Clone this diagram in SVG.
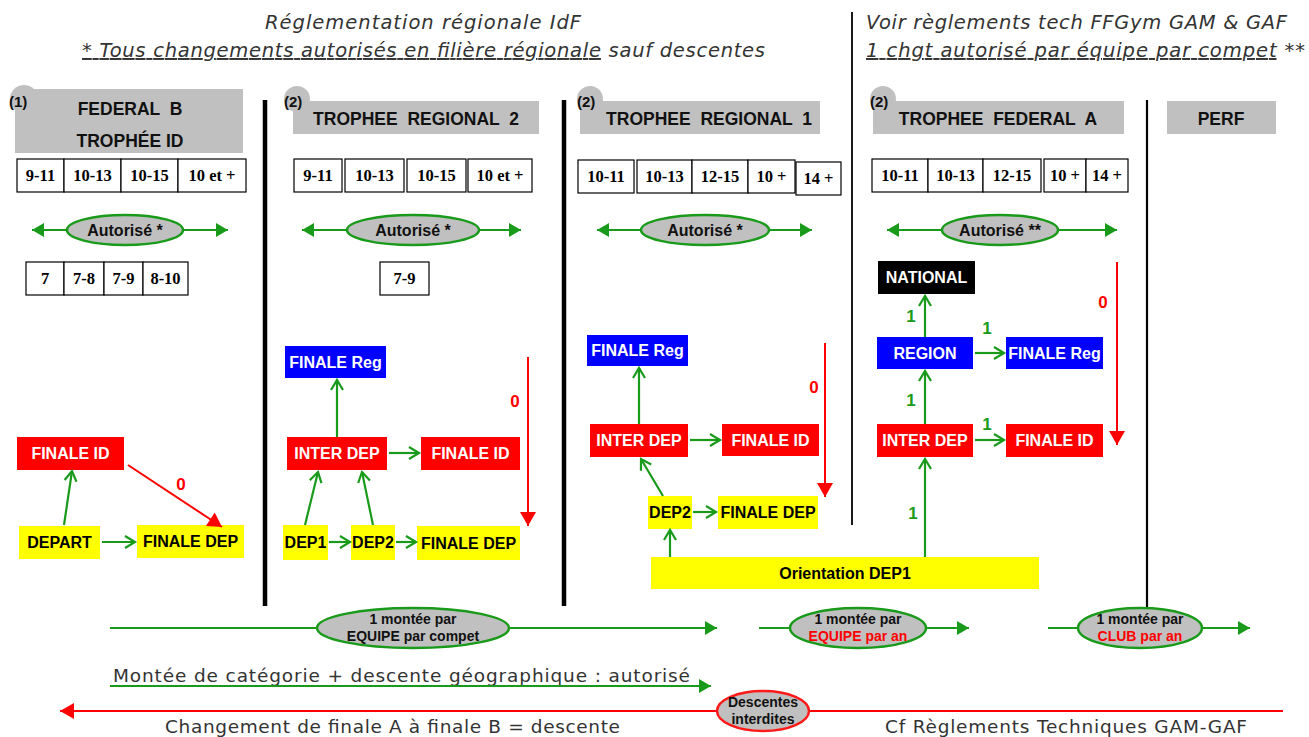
<svg xmlns="http://www.w3.org/2000/svg" width="1309" height="737" viewBox="0 0 1309 737">
<style>
.title{font-family:"DejaVu Sans","Liberation Sans",sans-serif;font-style:italic;font-size:19.5px;fill:#333;}
.plain{font-family:"DejaVu Sans","Liberation Sans",sans-serif;font-size:18.5px;fill:#333;}
.hdr{fill:#c0c0c0;}
.hdrt{font-family:"Liberation Sans",sans-serif;font-weight:bold;font-size:17.5px;fill:#111;text-anchor:middle;white-space:pre;}
.num{font-family:"Liberation Sans",sans-serif;font-weight:bold;font-size:15px;fill:#111;}
.age{fill:#fff;stroke:#000;stroke-width:1.2;}
.aget{font-family:"Liberation Serif",serif;font-weight:bold;font-size:16.5px;fill:#000;text-anchor:middle;}
.ell{fill:#c0c0c0;stroke:#1a9a1a;stroke-width:2.5;}
.ellr{fill:#c0c0c0;stroke:#ff1a1a;stroke-width:2.5;}
.ellt{font-family:"Liberation Sans",sans-serif;font-weight:bold;font-size:16px;fill:#111;text-anchor:middle;}
.ellt2{font-family:"Liberation Sans",sans-serif;font-weight:bold;font-size:14px;fill:#111;text-anchor:middle;}
.red{fill:#ff0000;}
.blue{fill:#0000ff;}
.yel{fill:#ffff00;}
.blk{fill:#000;}
.wt{font-family:"Liberation Sans",sans-serif;font-weight:bold;font-size:16px;fill:#fff;text-anchor:middle;}
.bt{font-family:"Liberation Sans",sans-serif;font-weight:bold;font-size:16px;fill:#000;text-anchor:middle;}
.g{stroke:#1a9a1a;stroke-width:2.2;fill:none;}
.r{stroke:#ff0000;stroke-width:2;fill:none;}
.gl{font-family:"Liberation Sans",sans-serif;font-weight:bold;font-size:17px;fill:#1a9a1a;text-anchor:middle;}
.rl{font-family:"Liberation Sans",sans-serif;font-weight:bold;font-size:17px;fill:#ff0000;text-anchor:middle;}
.sep{stroke:#000;}
</style>
<defs>
<marker id="gOpen" markerUnits="userSpaceOnUse" markerWidth="16" markerHeight="16" refX="13" refY="8" orient="auto">
<path d="M3,2 L13,8 L3,14" fill="none" stroke="#1a9a1a" stroke-width="2.2"/>
</marker>
<marker id="gFill" markerUnits="userSpaceOnUse" markerWidth="16" markerHeight="16" refX="14" refY="8" orient="auto-start-reverse">
<path d="M2,1 L14,8 L2,15 Z" fill="#1a9a1a"/>
</marker>
<marker id="rFill" markerUnits="userSpaceOnUse" markerWidth="18" markerHeight="18" refX="16" refY="9" orient="auto-start-reverse">
<path d="M2,1 L16,9 L2,17 Z" fill="#ff0000"/>
</marker>
</defs>

<g id="titles">
<text class="title" x="265" y="29" textLength="316">Réglementation régionale IdF</text>
<text class="title" x="82" y="57" textLength="683"><tspan text-decoration="underline">* Tous changements autorisés en filière régionale</tspan> sauf descentes</text>
<text class="title" x="866" y="29" textLength="421">Voir règlements tech FFGym GAM &amp; GAF</text>
<text class="title" x="866" y="57" textLength="439"><tspan text-decoration="underline">1 chgt autorisé par équipe par compet</tspan> **</text>
</g>

<g id="separators">
<line class="sep" x1="852" y1="12" x2="852" y2="525" stroke-width="1.8"/>
<line class="sep" x1="265" y1="100" x2="265" y2="606" stroke-width="4.5"/>
<line class="sep" x1="564" y1="100" x2="564" y2="606" stroke-width="4.5"/>
<line class="sep" x1="1147" y1="100" x2="1147" y2="608" stroke-width="2.2"/>
</g>

<g id="header-federal-b">
<circle class="hdr" cx="24" cy="99" r="14"/>
<rect class="hdr" x="15" y="89" width="228" height="64"/>
<text class="num" x="9" y="107">(1)</text>
<text class="hdrt" x="130" y="115">FEDERAL  B</text>
<text class="hdrt" x="130" y="147">TROPHÉE ID</text>
</g>
<g id="header-tr2">
<circle class="hdr" cx="297" cy="99" r="13"/>
<rect class="hdr" x="293" y="101" width="246" height="33"/>
<text class="num" x="284" y="107">(2)</text>
<text class="hdrt" x="416" y="125">TROPHEE  REGIONAL  2</text>
</g>
<g id="header-tr1">
<circle class="hdr" cx="590" cy="99" r="13"/>
<rect class="hdr" x="580" y="101" width="240" height="33"/>
<text class="num" x="577" y="107">(2)</text>
<text class="hdrt" x="709" y="125">TROPHEE  REGIONAL  1</text>
</g>
<g id="header-tfa">
<circle class="hdr" cx="883" cy="99" r="13"/>
<rect class="hdr" x="873" y="101" width="251" height="33"/>
<text class="num" x="870" y="107">(2)</text>
<text class="hdrt" x="998" y="125">TROPHEE  FEDERAL  A</text>
</g>
<g id="header-perf">
<rect class="hdr" x="1167" y="101" width="109" height="33"/>
<text class="hdrt" x="1221" y="125">PERF</text>
</g>

<g id="ages-1">
<rect class="age" x="17" y="159" width="47" height="33"/><text class="aget" x="40.5" y="181">9-11</text>
<rect class="age" x="64" y="159" width="57" height="33"/><text class="aget" x="92.5" y="181">10-13</text>
<rect class="age" x="121" y="159" width="57" height="33"/><text class="aget" x="149.5" y="181">10-15</text>
<rect class="age" x="178" y="159" width="68" height="33"/><text class="aget" x="212" y="181">10 et +</text>
<rect class="age" x="26" y="262" width="38" height="33"/><text class="aget" x="45" y="284">7</text>
<rect class="age" x="64" y="262" width="40" height="33"/><text class="aget" x="84" y="284">7-8</text>
<rect class="age" x="104" y="262" width="39" height="33"/><text class="aget" x="123.5" y="284">7-9</text>
<rect class="age" x="143" y="262" width="45" height="33"/><text class="aget" x="165.5" y="284">8-10</text>
</g>
<g id="ages-2">
<rect class="age" x="294" y="159" width="48" height="33"/><text class="aget" x="318" y="181">9-11</text>
<rect class="age" x="345" y="159" width="59" height="33"/><text class="aget" x="374.5" y="181">10-13</text>
<rect class="age" x="407" y="159" width="59" height="33"/><text class="aget" x="436.5" y="181">10-15</text>
<rect class="age" x="468" y="159" width="64" height="33"/><text class="aget" x="500" y="181">10 et +</text>
<rect class="age" x="380" y="262" width="49" height="33"/><text class="aget" x="404.5" y="284">7-9</text>
</g>
<g id="ages-3">
<rect class="age" x="578" y="160" width="56" height="33"/><text class="aget" x="606" y="182">10-11</text>
<rect class="age" x="637" y="160" width="55" height="33"/><text class="aget" x="664.5" y="182">10-13</text>
<rect class="age" x="692" y="160" width="56" height="33"/><text class="aget" x="720" y="182">12-15</text>
<rect class="age" x="748" y="160" width="47" height="33"/><text class="aget" x="771.5" y="182">10 +</text>
<rect class="age" x="796" y="162" width="45" height="33"/><text class="aget" x="818.5" y="184">14 +</text>
</g>
<g id="ages-4">
<rect class="age" x="872" y="159" width="56" height="33"/><text class="aget" x="900" y="181">10-11</text>
<rect class="age" x="928" y="159" width="55" height="33"/><text class="aget" x="955.5" y="181">10-13</text>
<rect class="age" x="983" y="159" width="58" height="33"/><text class="aget" x="1012" y="181">12-15</text>
<rect class="age" x="1044" y="159" width="42" height="33"/><text class="aget" x="1065" y="181">10 +</text>
<rect class="age" x="1086" y="159" width="42" height="33"/><text class="aget" x="1107" y="181">14 +</text>
</g>

<g id="autorise">
<line class="g" x1="32" y1="230" x2="228" y2="230" marker-start="url(#gFill)" marker-end="url(#gFill)"/>
<ellipse class="ell" cx="125" cy="230" rx="58" ry="15"/>
<text class="ellt" x="125" y="236">Autorisé *</text>
<line class="g" x1="302" y1="230" x2="521" y2="230" marker-start="url(#gFill)" marker-end="url(#gFill)"/>
<ellipse class="ell" cx="413" cy="230" rx="66" ry="15"/>
<text class="ellt" x="413" y="236">Autorisé *</text>
<line class="g" x1="597" y1="230" x2="812" y2="230" marker-start="url(#gFill)" marker-end="url(#gFill)"/>
<ellipse class="ell" cx="705" cy="230" rx="64" ry="15"/>
<text class="ellt" x="705" y="236">Autorisé *</text>
<line class="g" x1="887" y1="230" x2="1117" y2="230" marker-start="url(#gFill)" marker-end="url(#gFill)"/>
<ellipse class="ell" cx="1000" cy="230" rx="58" ry="15"/>
<text class="ellt" x="1000" y="236">Autorisé **</text>
</g>

<g id="c1-finale-id"><rect class="red" x="17" y="437" width="107" height="33"/><text class="wt" x="70.5" y="459">FINALE ID</text></g>
<g id="c1-depart"><rect class="yel" x="19" y="526" width="81" height="33"/><text class="bt" x="59.5" y="548">DEPART</text></g>
<g id="c1-finale-dep"><rect class="yel" x="137" y="525" width="107" height="33"/><text class="bt" x="190.5" y="547">FINALE DEP</text></g>

<g id="c2-finale-reg"><rect class="blue" x="285" y="346" width="101" height="32"/><text class="wt" x="335.5" y="368">FINALE Reg</text></g>
<g id="c2-inter-dep"><rect class="red" x="287" y="437" width="100" height="33"/><text class="wt" x="337" y="459">INTER DEP</text></g>
<g id="c2-finale-id"><rect class="red" x="421" y="437" width="99" height="33"/><text class="wt" x="470.5" y="459">FINALE ID</text></g>
<g id="c2-dep1"><rect class="yel" x="283" y="525" width="45" height="35"/><text class="bt" x="305.5" y="548">DEP1</text></g>
<g id="c2-dep2"><rect class="yel" x="351" y="525" width="44" height="35"/><text class="bt" x="373" y="548">DEP2</text></g>
<g id="c2-finale-dep"><rect class="yel" x="417" y="526" width="103" height="34"/><text class="bt" x="468.5" y="549">FINALE DEP</text></g>

<g id="c3-finale-reg"><rect class="blue" x="587" y="335" width="101" height="31"/><text class="wt" x="637.5" y="356">FINALE Reg</text></g>
<g id="c3-inter-dep"><rect class="red" x="590" y="424" width="98" height="33"/><text class="wt" x="639" y="446">INTER DEP</text></g>
<g id="c3-finale-id"><rect class="red" x="722" y="424" width="97" height="32"/><text class="wt" x="770.5" y="446">FINALE ID</text></g>
<g id="c3-dep2"><rect class="yel" x="648" y="496" width="44" height="33"/><text class="bt" x="670" y="518">DEP2</text></g>
<g id="c3-finale-dep"><rect class="yel" x="718" y="496" width="100" height="33"/><text class="bt" x="768" y="518">FINALE DEP</text></g>
<g id="orientation-dep1"><rect class="yel" x="651" y="557" width="388" height="32"/><text class="bt" x="845" y="579">Orientation DEP1</text></g>

<g id="c4-national"><rect class="blk" x="878" y="261" width="97" height="33"/><text class="wt" x="926.5" y="283">NATIONAL</text></g>
<g id="c4-region"><rect class="blue" x="877" y="337" width="96" height="32"/><text class="wt" x="925" y="359">REGION</text></g>
<g id="c4-finale-reg"><rect class="blue" x="1006" y="337" width="97" height="32"/><text class="wt" x="1054.5" y="359">FINALE Reg</text></g>
<g id="c4-inter-dep"><rect class="red" x="877" y="424" width="96" height="33"/><text class="wt" x="925" y="446">INTER DEP</text></g>
<g id="c4-finale-id"><rect class="red" x="1006" y="424" width="97" height="33"/><text class="wt" x="1054.5" y="446">FINALE ID</text></g>

<g id="connectors">
<line class="g" x1="64" y1="525" x2="72" y2="471" marker-end="url(#gOpen)"/>
<line class="g" x1="102" y1="542" x2="135" y2="542" marker-end="url(#gOpen)"/>
<line class="r" x1="128" y1="465" x2="222" y2="527" marker-end="url(#rFill)"/>
<text class="rl" x="181" y="490">0</text>
<line class="g" x1="337" y1="437" x2="337" y2="380" marker-end="url(#gOpen)"/>
<line class="g" x1="389" y1="453" x2="419" y2="453" marker-end="url(#gOpen)"/>
<line class="g" x1="305" y1="525" x2="318" y2="472" marker-end="url(#gOpen)"/>
<line class="g" x1="373" y1="525" x2="362" y2="472" marker-end="url(#gOpen)"/>
<line class="g" x1="329" y1="542" x2="350" y2="542" marker-end="url(#gOpen)"/>
<line class="g" x1="396" y1="542" x2="416" y2="542" marker-end="url(#gOpen)"/>
<line class="r" x1="528" y1="357" x2="528" y2="526" marker-end="url(#rFill)"/>
<text class="rl" x="515" y="407">0</text>
<line class="g" x1="639" y1="424" x2="639" y2="368" marker-end="url(#gOpen)"/>
<line class="g" x1="690" y1="440" x2="720" y2="440" marker-end="url(#gOpen)"/>
<line class="g" x1="663" y1="496" x2="641" y2="459" marker-end="url(#gOpen)"/>
<line class="g" x1="693" y1="512" x2="716" y2="512" marker-end="url(#gOpen)"/>
<line class="g" x1="670" y1="557" x2="670" y2="530" marker-end="url(#gOpen)"/>
<line class="r" x1="825" y1="343" x2="825" y2="497" marker-end="url(#rFill)"/>
<text class="rl" x="814" y="393">0</text>
<line class="g" x1="925" y1="337" x2="925" y2="296" marker-end="url(#gOpen)"/>
<text class="gl" x="911" y="322">1</text>
<line class="g" x1="975" y1="353" x2="1004" y2="353" marker-end="url(#gOpen)"/>
<text class="gl" x="987" y="334">1</text>
<line class="g" x1="925" y1="424" x2="925" y2="371" marker-end="url(#gOpen)"/>
<text class="gl" x="911" y="406">1</text>
<line class="g" x1="975" y1="440" x2="1004" y2="440" marker-end="url(#gOpen)"/>
<text class="gl" x="987" y="430">1</text>
<line class="g" x1="925" y1="557" x2="925" y2="459" marker-end="url(#gOpen)"/>
<text class="gl" x="913" y="519">1</text>
<line class="r" x1="1117" y1="262" x2="1117" y2="445" marker-end="url(#rFill)"/>
<text class="rl" x="1103" y="308">0</text>
</g>

<g id="bottom-rules">
<line class="g" x1="110" y1="628" x2="717" y2="628" marker-end="url(#gFill)"/>
<ellipse class="ell" cx="413" cy="628" rx="96" ry="20"/>
<text class="ellt2" x="413" y="624">1 montée par</text>
<text class="ellt2" x="413" y="641">EQUIPE par compet</text>
<line class="g" x1="759" y1="628" x2="969" y2="628" marker-end="url(#gFill)"/>
<ellipse class="ell" cx="858" cy="628" rx="68" ry="20"/>
<text class="ellt2" x="858" y="624">1 montée par</text>
<text class="ellt2" x="858" y="641" style="fill:#ff0000">EQUIPE par an</text>
<line class="g" x1="1048" y1="628" x2="1250" y2="628" marker-end="url(#gFill)"/>
<ellipse class="ell" cx="1140" cy="628" rx="62" ry="20"/>
<text class="ellt2" x="1140" y="624">1 montée par</text>
<text class="ellt2" x="1140" y="641" style="fill:#ff0000">CLUB par an</text>
<text class="plain" x="113" y="682" textLength="577">Montée de catégorie + descente géographique  :  autorisé</text>
<line class="g" x1="110" y1="686" x2="711" y2="686" marker-end="url(#gFill)"/>
<line class="r" x1="60" y1="711" x2="1283" y2="711" marker-start="url(#rFill)"/>
<ellipse class="ellr" cx="763" cy="711" rx="46" ry="20"/>
<text class="ellt2" x="763" y="707">Descentes</text>
<text class="ellt2" x="763" y="724">interdites</text>
<text class="plain" x="165" y="733" textLength="455">Changement de finale A à finale B = descente</text>
<text class="plain" x="885" y="733" textLength="362">Cf Règlements Techniques GAM-GAF</text>
</g>
</svg>
